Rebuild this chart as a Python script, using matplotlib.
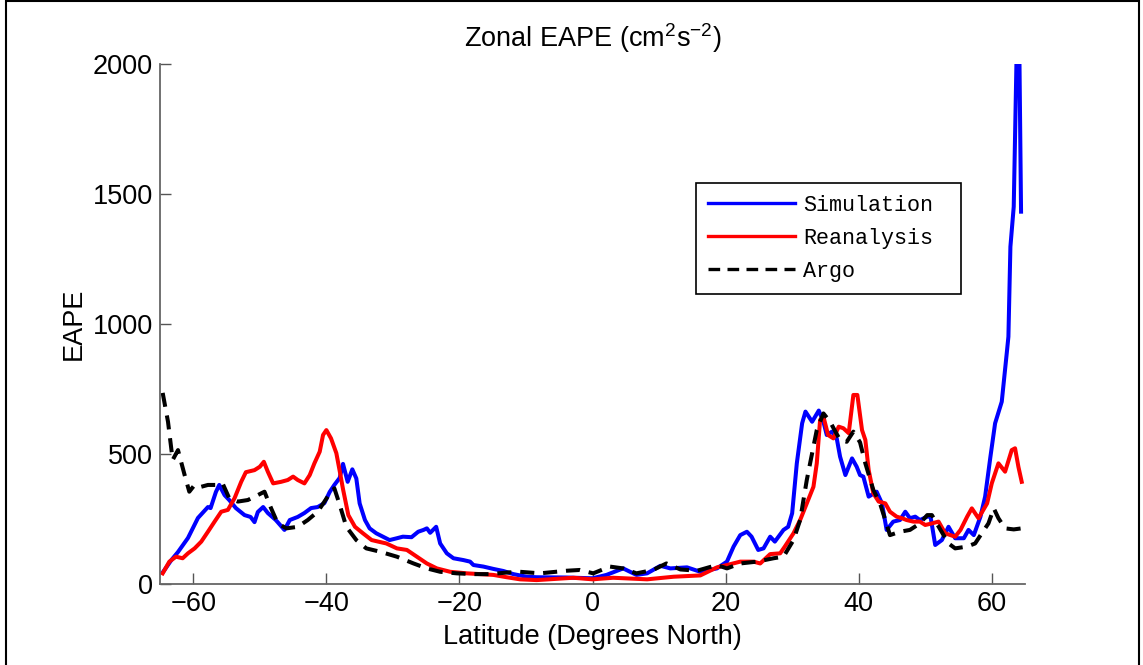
import matplotlib
matplotlib.use("Agg")
import matplotlib.pyplot as plt
from matplotlib.patches import Rectangle

plt.rcParams['font.family'] = ['Liberation Sans', 'DejaVu Sans']
plt.rcParams['mathtext.default'] = 'regular'

# Simulation
lat_sim = [-64.6, -63.3, -62.3, -60.8, -59.3, -57.8, -57.4, -56.6, -56.1, -55.3,
           -54.6, -53.6, -52.3, -51.4, -50.8, -50.3, -49.5, -48.8, -47.6, -46.3,
           -45.5, -44.3, -43.3, -42.3, -41.3, -40.3, -39.5, -38.8, -38.0, -37.5,
           -36.8, -36.1, -35.5, -35.0, -34.2, -33.5, -32.5, -31.5, -30.5, -29.4,
           -28.5, -27.2, -26.2, -25.4, -24.9, -24.4, -23.5, -22.9, -21.9, -20.9,
           -19.4, -18.4, -17.9, -16.4, -14.9, -13.4, -11.9, -9.9, -8.4, -4.0,
           0.0, 2.1, 4.6, 6.6, 8.2, 10.2, 11.7, 14.2, 16.2, 18.7,
           20.2, 21.2, 22.2, 23.2, 23.9, 24.9, 25.7, 26.7, 27.4, 28.7,
           29.4, 30.0, 30.7, 31.5, 32.0, 33.0, 34.0, 34.7, 35.2, 36.0,
           36.7, 37.2, 38.0, 39.0, 39.7, 40.2, 40.7, 41.5, 42.7, 43.5,
           44.2, 45.2, 46.2, 47.0, 47.7, 48.5, 49.2, 50.3, 50.8, 51.5,
           52.5, 53.5, 54.5, 55.8, 56.5, 57.3, 58.3, 59.0, 59.8, 60.5,
           61.5, 62.3, 62.5, 62.8, 63.3, 64.0, 64.4]
eape_sim = [44, 92, 123, 177, 254, 296, 292, 354, 381, 342,
            323, 292, 265, 258, 238, 277, 296, 273, 246, 208,
            246, 258, 273, 292, 296, 311, 354, 381, 408, 462,
            393, 441, 406, 310, 246, 214, 195, 182, 169, 176,
            182, 180, 201, 208, 214, 197, 220, 156, 118, 99,
            92, 86, 73, 67, 58, 50, 38, 28, 26, 25,
            22, 35, 60, 35, 41, 70, 60, 64, 47, 60,
            86, 144, 188, 201, 182, 131, 137, 182, 163, 208,
            220, 272, 464, 618, 663, 624, 667, 624, 573, 586,
            560, 490, 419, 483, 451, 419, 413, 336, 355, 310,
            208, 240, 246, 278, 253, 259, 246, 259, 259, 150,
            169, 220, 176, 176, 208, 188, 259, 336, 490, 618,
            701, 900, 951, 1297, 1451, 2400, 1432]

# Reanalysis
lat_rea = [-64.6, -63.6, -62.6, -61.6, -60.8, -59.8, -58.8, -57.8, -56.8, -55.8,
           -54.8, -53.8, -52.8, -52.1, -50.8, -50.0, -49.4, -48.8, -48.0, -46.8,
           -45.8, -45.0, -44.3, -43.3, -42.5, -41.8, -41.0, -40.5, -40.0, -39.3,
           -38.5, -38.0, -37.5, -36.7, -35.7, -34.5, -33.2, -32.2, -31.0, -29.4,
           -27.9, -26.4, -24.9, -23.4, -21.4, -18.9, -16.9, -14.9, -12.9, -10.9,
           -8.4, -2.9, 0.0, 3.1, 8.2, 12.2, 16.2, 18.7, 20.2, 22.2,
           24.2, 25.2, 26.7, 28.2, 28.9, 30.2, 31.2, 32.2, 33.2, 33.7,
           34.2, 34.7, 35.4, 36.2, 37.0, 37.7, 38.5, 39.2, 39.8, 40.5,
           41.0, 41.5, 42.2, 43.0, 44.0, 44.7, 45.7, 46.5, 47.2, 48.2,
           49.2, 50.0, 51.0, 52.0, 53.0, 54.5, 55.3, 56.3, 57.0, 58.0,
           59.3, 60.0, 61.0, 62.0, 63.0, 63.5, 64.0, 64.5]
eape_rea = [41, 86, 105, 99, 118, 137, 163, 201, 240, 278,
            285, 330, 393, 430, 438, 451, 470, 432, 387, 393,
            400, 413, 400, 387, 419, 464, 509, 573, 592, 560,
            503, 435, 365, 265, 220, 195, 169, 163, 156, 137,
            131, 105, 79, 60, 47, 41, 38, 35, 26, 18,
            15, 24, 18, 24, 18, 28, 33, 64, 73, 86,
            86, 79, 115, 118, 144, 195, 246, 310, 374, 464,
            631, 644, 573, 560, 605, 599, 580, 727, 727, 592,
            554, 438, 349, 317, 310, 278, 259, 253, 246, 240,
            240, 227, 233, 240, 195, 182, 208, 259, 291, 253,
            310, 387, 464, 432, 515, 522, 451, 393]

# Argo
lat_argo = [-64.6, -63.8, -63.1, -62.3, -61.3, -60.6, -59.8, -58.8, -57.8, -56.6,
            -55.6, -54.6, -53.3, -51.8, -50.3, -49.3, -48.3, -47.3, -46.0, -44.3,
            -42.8, -41.3, -39.8, -38.8, -38.0, -37.0, -35.5, -34.0, -31.9, -29.4,
            -26.9, -24.9, -22.9, -20.4, -17.9, -15.4, -12.9, -10.9, -7.9, -3.9,
            -1.9, 0.1, 2.6, 4.6, 6.6, 9.1, 11.1, 13.2, 15.7, 18.7,
            20.2, 22.2, 24.7, 27.2, 28.7, 30.2, 31.2, 32.2, 33.0, 33.7,
            34.7, 35.7, 36.5, 37.2, 38.2, 39.2, 40.2, 41.0, 42.2, 43.2,
            44.0, 44.7, 46.2, 47.7, 49.2, 50.3, 51.0, 52.3, 53.5, 54.5,
            56.3, 57.5, 58.5, 59.5, 60.3, 61.0, 62.0, 63.3, 64.5]
eape_argo = [735, 624, 477, 515, 419, 355, 381, 374, 381, 381,
             387, 330, 317, 323, 342, 355, 291, 233, 214, 220,
             246, 278, 336, 368, 305, 220, 169, 137, 124, 105,
             79, 60, 47, 41, 38, 38, 44, 47, 41, 51,
             54, 41, 67, 60, 41, 54, 79, 56, 51, 73,
             60, 79, 86, 99, 105, 169, 246, 400, 503, 592,
             656, 624, 586, 554, 547, 586, 545, 464, 362, 310,
             246, 188, 201, 208, 233, 265, 265, 208, 156, 137,
             144, 156, 195, 233, 291, 253, 214, 210, 214]

xticks = [-60, -40, -20, 0, 20, 40, 60]
yticks = [0, 500, 1000, 1500, 2000]

fig = plt.figure(figsize=(11.43, 6.65), dpi=100)
ax = fig.add_axes([0.140, 0.1218, 0.7568, 0.782])

ax.plot(lat_sim, eape_sim, color='#0000ff', lw=2.9, label='Simulation')
ax.plot(lat_rea, eape_rea, color='#ff0000', lw=2.9, label='Reanalysis')
ax.plot(lat_argo, eape_argo, color='black', lw=2.9, linestyle=(0, (3.5, 2.2)),
        label='Argo')

ax.set_xlim(-65, 65)
ax.set_ylim(0, 2000)
ax.set_xticks(xticks)
ax.set_yticks(yticks)
ax.tick_params(direction='in', length=8, width=1, color='#555555',
               labelsize=19.5, pad=5)
for s in ['top', 'right']:
    ax.spines[s].set_visible(False)
for s in ['left', 'bottom']:
    ax.spines[s].set_color('#666666')
    ax.spines[s].set_linewidth(1.3)

ax.set_title('Zonal EAPE (cm$^2$s$^{-2}$)', fontsize=19.5, pad=12)
ax.set_xlabel('Latitude (Degrees North)', fontsize=19.5, labelpad=5)
ax.set_ylabel('EAPE', fontsize=19.5, labelpad=4.5)

# legend box spans the width MATLAB gave it
leg = ax.legend(loc='upper left', bbox_to_anchor=(0.6197, 0.5, 0.3064, 0.271),
                mode='expand', borderaxespad=0,
                prop={'family': 'Liberation Mono', 'size': 15.7},
                handlelength=4.0, handletextpad=0.35, labelspacing=0.55,
                borderpad=0.55, fancybox=False, framealpha=1)
leg.get_frame().set_edgecolor('black')
leg.get_frame().set_linewidth(1.2)
for line in leg.get_lines():
    line.set_linewidth(2.4)

# outer frame
fig.patches.append(Rectangle((6 / 1143, -0.01), 1133 / 1143, 1.0085,
                             transform=fig.transFigure, fill=False,
                             edgecolor='black', lw=1.5))

fig.savefig('out.png', dpi=100)
